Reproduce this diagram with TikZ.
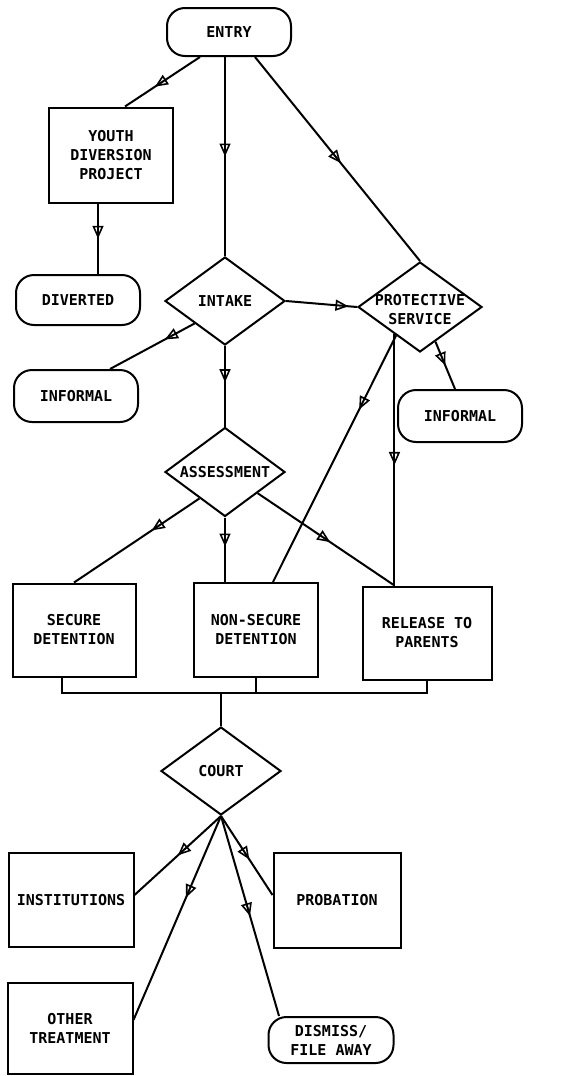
\documentclass[tikz,border=0pt]{standalone}
\usepackage{fontspec}
\newfontfamily\fonteFluxo{DejaVu Sans Mono}
\usetikzlibrary{shapes.geometric,arrows.meta,decorations.markings}
\begin{document}
\begin{tikzpicture}[x=1pt, y=-1pt, line width=2pt,
        caixa/.style={draw, rectangle, minimum width=124pt, minimum height=94pt, align=center, inner sep=2pt},
        oval/.style={draw, rectangle, rounded corners=18pt, minimum width=124pt, minimum height=48pt, align=center, inner sep=2pt},
        losango/.style={draw, diamond, shape aspect=1.36, minimum width=120pt, minimum height=88pt, inner sep=0pt},
        seta/.style={postaction={decorate}, decoration={markings, mark=at position #1 with {\arrow[line width=1.6pt]{Triangle[open, length=13pt, width=11pt]}}}},
        seta/.default=0.5,
        every node/.style={font=\fonteFluxo\bfseries\fontsize{15}{19}\selectfont}]
        \useasboundingbox (0,0) rectangle (579,1076); % Moldura
        \node[oval] (entrada) at (229,32) {ENTRY}; % Entrada
        \node[caixa, minimum height=95pt] (projeto) at (111,155) {YOUTH\\DIVERSION\\PROJECT}; % Projeto
        \node[oval, minimum height=50pt] (desviado) at (78,300) {DIVERTED}; % Desviado
        \node[losango] (triagem) at (225,301) {INTAKE}; % Triagem
        \node[losango, minimum width=124pt, minimum height=90pt] (protecao) at (420,307) {\smash{\raisebox{-8pt}{\begin{tabular}{@{}c@{}}PROTECTIVE\\SERVICE\end{tabular}}}}; % Protecao
        \node[oval, minimum height=52pt] (informalA) at (76,396) {INFORMAL}; % Informal esquerda
        \node[oval, minimum height=52pt] (informalB) at (460,416) {INFORMAL}; % Informal direita
        \node[losango, minimum height=89pt] (avaliacao) at (225,472) {ASSESSMENT}; % Avaliacao
        \node[caixa, minimum width=123pt, minimum height=93pt] (segura) at (74,630) {SECURE\\DETENTION}; % Detencao segura
        \node[caixa] (naosegura) at (256,630) {NON-SECURE\\DETENTION}; % Detencao nao segura
        \node[caixa, minimum width=129pt, minimum height=93pt] (liberacao) at (427,633) {RELEASE TO\\PARENTS}; % Liberacao
        \coordinate (barra) at (240,693); % Barra de juncao
        \coordinate (pais) at (protecao.227 |- liberacao.north); % Chegada comum
        \node[losango] (tribunal) at (221,771) {COURT}; % Tribunal
        \node[caixa, minimum width=125pt] (instituicoes) at (71,900) {INSTITUTIONS}; % Instituicoes
        \node[caixa, minimum width=127pt, minimum height=95pt] (liberdade) at (337,900) {PROBATION}; % Liberdade assistida
        \node[caixa, minimum width=125pt, minimum height=91pt] (outro) at (70,1028) {OTHER\\TREATMENT}; % Outro tratamento
        \node[oval, minimum width=125pt, minimum height=46pt] (arquivo) at (331,1040) {DISMISS/\\FILE AWAY}; % Arquivamento
        \draw[seta=0.6] ([xshift=-29]entrada.south) -- ([xshift=14]projeto.north); % Entrada para projeto
        \draw[seta] (entrada.south -| triagem.north) -- (triagem.north); % Entrada para triagem
        \draw[seta=0.52] ([xshift=26]entrada.south) -- (protecao.north); % Entrada para protecao
        \draw[seta] ([xshift=-13]projeto.south) -- ([xshift=-13]projeto.south |- desviado.north); % Projeto para desviado
        \draw[seta=0.88] (triagem.east) -- (protecao.west); % Triagem para protecao
        \draw[seta=0.35] (triagem.south west) -- ([xshift=34]informalA.north); % Triagem para informal
        \draw[seta=0.45] (triagem.south) -- (avaliacao.north); % Triagem para avaliacao
        \draw[seta] (protecao.-66) -- ([xshift=-5]informalB.north); % Protecao para informal
        \draw[seta=0.3] (protecao.230) -- ([xshift=17]naosegura.north); % Protecao para nao segura
        \draw[seta=0.52] (protecao.227) -- (pais); % Protecao para liberacao
        \draw[seta=0.38] (avaliacao.226) -- (segura.north); % Avaliacao para segura
        \draw[seta=0.45] (avaliacao.south) -- (avaliacao.south |- naosegura.north); % Avaliacao para nao segura
        \draw[seta=0.53] (avaliacao.-33) -- (pais); % Avaliacao para liberacao
        \draw ([xshift=-12]segura.south) |- (barra) -| (liberacao.south); % Barra inferior
        \draw (naosegura.south) -- (naosegura.south |- barra); % Ligacao central
        \draw (tribunal.north) -- (tribunal.north |- barra); % Barra para tribunal
        \draw[seta] (tribunal.south) -- ([yshift=5]instituicoes.east); % Tribunal para instituicoes
        \draw[seta=0.4] (tribunal.south) -- ([yshift=8]outro.east); % Tribunal para outro
        \draw[seta] (tribunal.south) -- ([xshift=-52]arquivo.north); % Tribunal para arquivo
        \draw[seta=0.55] (tribunal.south) -- ([yshift=5]liberdade.west); % Tribunal para liberdade
    \end{tikzpicture}
\end{document}
